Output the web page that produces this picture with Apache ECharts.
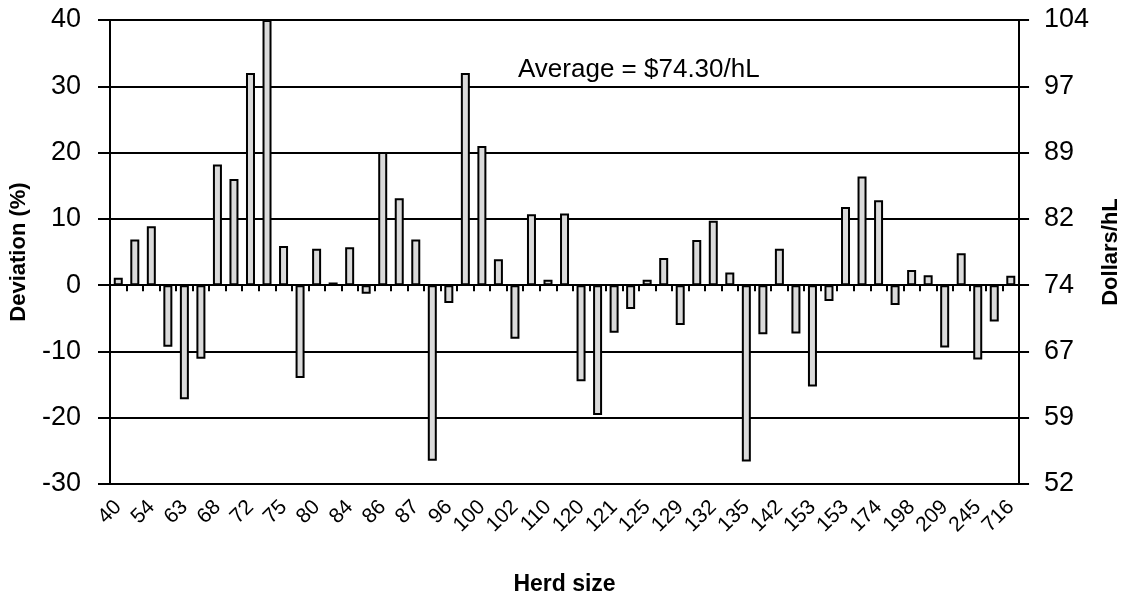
<!DOCTYPE html>
<html>
<head>
<meta charset="utf-8">
<script src="https://cdn.jsdelivr.net/npm/echarts@6/dist/echarts.min.js"></script>
<style>
  html, body { margin: 0; padding: 0; background: #fff; }
  #chart { width: 1130px; height: 601px; }
</style>
</head>
<body>
<div id="chart"></div>
<script>
// Herd-size labels, shown under every second bar
const herdLabels = ['40', '54', '63', '68', '72', '75', '80', '84', '86', '87', '96', '100', '102', '110',
  '120', '121', '125', '129', '132', '135', '142', '153', '153', '174', '198', '209', '245', '716'];

// Deviation from the average price (%) for each herd, in herd-size order
const deviation = [1.1, 6.9, 8.9, -9.3, -17.2, -11.1, 18.2, 16.0, 32.0, 40.0, 5.9, -14.0, 5.5, 0.4,
  5.7, -1.3, 20.1, 13.1, 6.9, -26.5, -2.7, 32.0, 21.0, 3.9, -8.1, 10.7, 0.8, 10.8,
  -14.5, -19.6, -7.2, -3.6, 0.8, 4.1, -6.0, 6.8, 9.7, 1.9, -26.6, -7.4, 5.5, -7.3,
  -15.3, -2.4, 11.8, 16.4, 12.8, -3.0, 2.3, 1.5, -9.4, 4.8, -11.2, -5.5, 1.4];

// Average price, $/hL; the right axis is this value scaled by the deviation
const AVERAGE = 74.30;
const DEV_MIN = -30, DEV_MAX = 40, DEV_STEP = 10;

const categories = deviation.map((_, i) => (i % 2 === 0 ? herdLabels[i / 2] : ''));
const toDollars = d => +(AVERAGE * (1 + d / 100)).toFixed(2);

const FONT = '"Liberation Sans", Arial, sans-serif';
const chart = echarts.init(document.getElementById('chart'));

chart.setOption({
  animation: false,
  backgroundColor: '#fff',
  grid: { left: 109, right: 98, top: 20, bottom: 117, containLabel: false },
  xAxis: [
    {
      // axis line and ticks along zero
      type: 'category',
      data: categories,
      position: 'bottom',
      axisLine: { show: true, onZero: true, lineStyle: { color: '#000', width: 2 } },
      axisTick: { show: true, interval: 0, length: 6, lineStyle: { color: '#000', width: 2 } },
      axisLabel: { show: false },
      splitLine: { show: false }
    },
    {
      // herd-size labels along the bottom of the plot
      type: 'category',
      data: categories,
      position: 'bottom',
      axisLine: { show: false, onZero: false },
      axisTick: { show: false },
      axisLabel: {
        interval: 0, rotate: 45, margin: 20,
        fontFamily: FONT, fontSize: 21, color: '#000'
      },
      name: 'Herd size',
      nameLocation: 'middle',
      nameGap: 89,
      nameTextStyle: { fontFamily: FONT, fontSize: 23, fontWeight: 'bold', color: '#000' }
    }
  ],
  yAxis: [
    {
      type: 'value',
      min: DEV_MIN, max: DEV_MAX, interval: DEV_STEP,
      position: 'left',
      axisLine: { show: true, lineStyle: { color: '#000', width: 2 } },
      axisTick: { show: true, length: 12, lineStyle: { color: '#000', width: 2 } },
      axisLabel: { margin: 29, fontFamily: FONT, fontSize: 27, color: '#000' },
      splitLine: { show: true, lineStyle: { color: '#000', width: 2 } },
      name: 'Deviation (%)',
      nameLocation: 'middle',
      nameGap: 80,
      nameTextStyle: { fontFamily: FONT, fontSize: 22, fontWeight: 'bold', color: '#000' }
    },
    {
      type: 'value',
      min: toDollars(DEV_MIN), max: toDollars(DEV_MAX),
      interval: +(AVERAGE * DEV_STEP / 100).toFixed(2),
      position: 'right',
      axisLine: { show: true, lineStyle: { color: '#000', width: 2 } },
      axisTick: { show: true, length: 10, lineStyle: { color: '#000', width: 2 } },
      axisLabel: {
        margin: 25, fontFamily: FONT, fontSize: 27, color: '#000',
        formatter: v => Math.round(v)
      },
      splitLine: { show: false },
      name: 'Dollars/hL',
      nameLocation: 'middle',
      nameGap: 76,
      nameTextStyle: { fontFamily: FONT, fontSize: 22, fontWeight: 'bold', color: '#000' }
    }
  ],
  series: [
    {
      type: 'bar',
      xAxisIndex: 0,
      yAxisIndex: 0,
      data: deviation,
      barWidth: 9,
      itemStyle: { color: '#dadada', borderColor: '#000', borderWidth: 2 }
    }
  ],
  graphic: [
    {
      type: 'text',
      left: 518,
      top: 57,
      style: {
        text: 'Average = $' + AVERAGE.toFixed(2) + '/hL',
        font: '26px ' + FONT,
        fill: '#000'
      }
    }
  ]
});
</script>
</body>
</html>
